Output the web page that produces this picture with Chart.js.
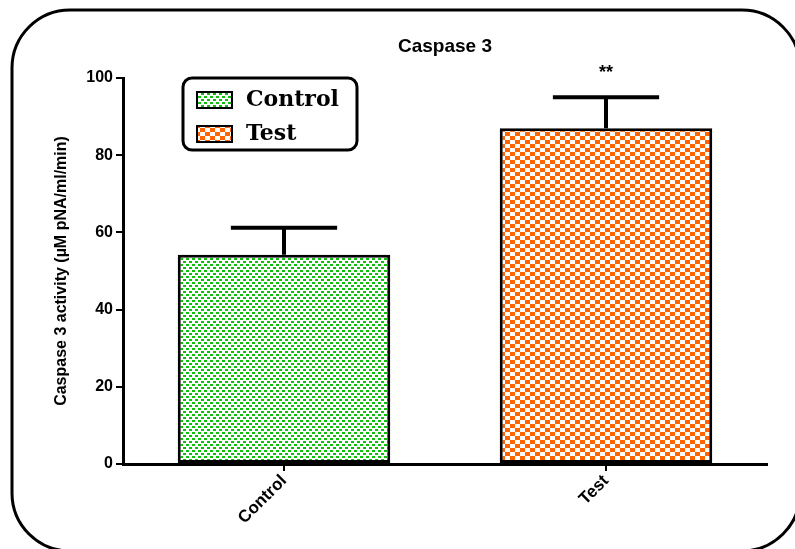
<!DOCTYPE html>
<html lang="en">
<head>
    <meta charset="UTF-8" />
    <title>Caspase 3</title>
    <script src="https://cdn.jsdelivr.net/npm/chart.js"></script>
    <style>
        html, body { margin: 0; padding: 0; background: #fff; }
        #wrap { width: 795px; height: 549px; }
    </style>
</head>
<body>
    <div id="wrap"><canvas id="chart" width="795" height="549"></canvas></div>

    <script>
        // data
        const groups = ['Control', 'Test'];
        const means = [54.2, 87.0];
        const errors = [7.0, 8.0];
        const marks = ['', '**'];
        const yTicks = [0, 20, 40, 60, 80, 100];

        // fill patterns like the graphpad ones
        function makePattern(w, h, color, cells) {
            const c = document.createElement('canvas');
            c.width = w; c.height = h;
            const g = c.getContext('2d');
            g.fillStyle = '#fff';
            g.fillRect(0, 0, w, h);
            g.fillStyle = color;
            cells.forEach(r => g.fillRect(r[0], r[1], r[2], r[3]));
            return g.createPattern(c, 'repeat');
        }
        const greenFill = makePattern(6, 6, '#0cc00c', [[0, 0, 3, 2], [3, 3, 3, 2]]);
        const orangeFill = makePattern(10, 8, '#ff6600', [[0, 0, 5, 4], [5, 4, 5, 4]]);
        const fills = [greenFill, orangeFill];

        const extras = {
            id: 'extras',
            beforeDraw(chart) {
                const ctx = chart.ctx;
                ctx.save();
                ctx.strokeStyle = '#000';
                ctx.lineWidth = 3;
                ctx.beginPath();
                ctx.roundRect(12, 10, 788, 541, 58);
                ctx.stroke();
                ctx.restore();
            },
            afterDatasetsDraw(chart) {
                const ctx = chart.ctx;
                const area = chart.chartArea;
                const y = chart.scales.y;
                const meta = chart.getDatasetMeta(0);
                ctx.save();
                // error bars (upper only)
                ctx.strokeStyle = '#000';
                ctx.lineWidth = 4;
                meta.data.forEach((bar, i) => {
                    const top = y.getPixelForValue(means[i] + errors[i]);
                    const half = bar.width / 4;
                    ctx.beginPath();
                    ctx.moveTo(bar.x, bar.y);
                    ctx.lineTo(bar.x, top);
                    ctx.moveTo(bar.x - half, top);
                    ctx.lineTo(bar.x + half, top);
                    ctx.stroke();
                    if (marks[i]) {
                        ctx.fillStyle = '#000';
                        ctx.font = 'bold 18px Arial';
                        ctx.textAlign = 'center';
                        ctx.textBaseline = 'middle';
                        ctx.fillText(marks[i], bar.x, top - 24);
                    }
                });

                // title over the plot area
                ctx.fillStyle = '#000';
                ctx.font = 'bold 19px Arial';
                ctx.textAlign = 'center';
                ctx.textBaseline = 'middle';
                ctx.fillText('Caspase 3', (area.left + area.right) / 2, 47);

                // legend box
                const lx = area.left + 60, ly = area.top;
                ctx.lineWidth = 3;
                ctx.beginPath();
                ctx.roundRect(lx, ly, 174, 72, 9);
                ctx.stroke();
                ctx.font = 'bold 22px "DejaVu Serif"';
                ctx.textAlign = 'left';
                groups.forEach((name, i) => {
                    const sy = ly + 14 + i * 34;
                    ctx.fillStyle = fills[i];
                    ctx.fillRect(lx + 14, sy, 35, 16);
                    ctx.lineWidth = 2;
                    ctx.strokeRect(lx + 14, sy, 35, 16);
                    ctx.fillStyle = '#000';
                    ctx.fillText(name, lx + 63, sy + 8);
                });
                ctx.restore();
            }
        };

        new Chart(document.getElementById('chart').getContext('2d'), {
            type: 'bar',
            data: {
                labels: groups,
                datasets: [{
                    data: means,
                    backgroundColor: fills,
                    borderColor: '#000',
                    borderWidth: 3,
                    borderSkipped: false,
                    barPercentage: 0.66,
                    categoryPercentage: 1
                }]
            },
            options: {
                responsive: false,
                animation: false,
                layout: { padding: { left: 50, top: 78, right: 28, bottom: 0 } },
                plugins: {
                    legend: { display: false },
                    tooltip: { enabled: false }
                },
                scales: {
                    x: {
                        grid: { drawOnChartArea: false, offset: false, color: '#000', lineWidth: 2, tickLength: 7 },
                        border: { color: '#000', width: 3 },
                        ticks: {
                            color: '#000', font: { family: 'Arial', weight: 'bold', size: 17 },
                            minRotation: 45, maxRotation: 45, padding: 0
                        },
                        afterFit(s) { s.height = 85; }
                    },
                    y: {
                        min: 0, max: 100,
                        afterBuildTicks(s) { s.ticks = yTicks.map(v => ({ value: v })); },
                        grid: { drawOnChartArea: false, color: '#000', lineWidth: 2, tickLength: 7 },
                        border: { color: '#000', width: 3 },
                        ticks: { color: '#000', font: { family: 'Arial', weight: 'bold', size: 16 }, padding: 3 },
                        title: {
                            display: true,
                            text: 'Caspase 3 activity (\u00b5M pNA/ml/min)',
                            color: '#000',
                            font: { family: 'Arial', weight: 'bold', size: 16 },
                            padding: { top: 2, bottom: 4 }
                        },
                        afterFit(s) { s.width = 73; }
                    }
                }
            },
            plugins: [extras]
        });
    </script>
</body>
</html>
